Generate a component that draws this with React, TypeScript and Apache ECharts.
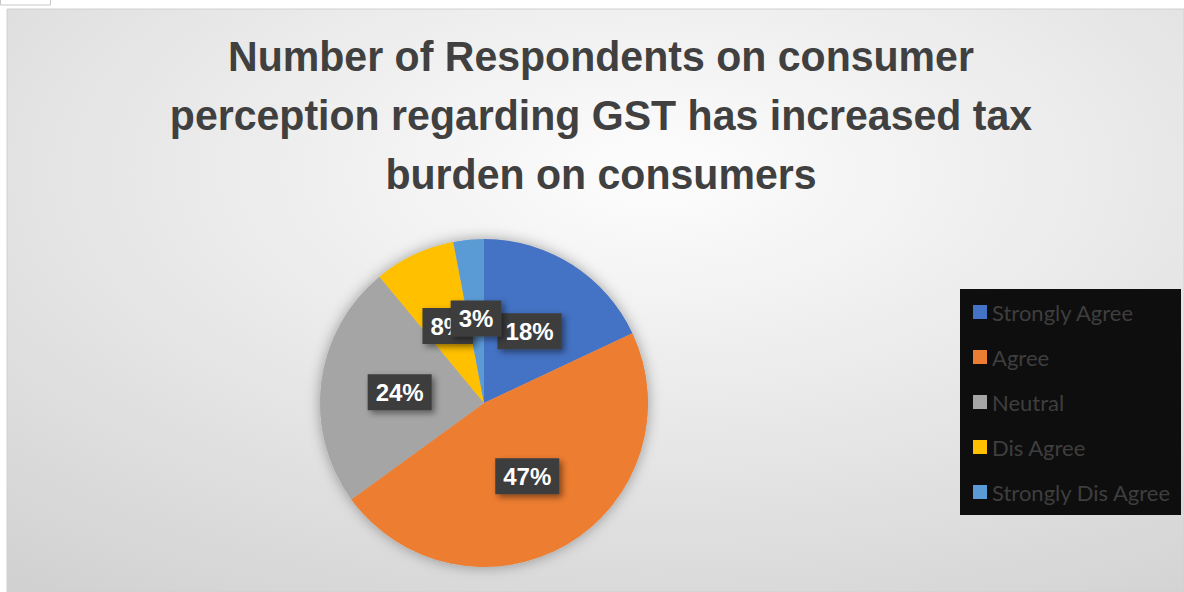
import React, { useEffect, useRef } from "react";
import * as echarts from "echarts";

const categories = ["Strongly Agree", "Agree", "Neutral", "Dis Agree", "Strongly Dis Agree"];
const values = [18, 47, 24, 8, 3];
const colors = ["#4472C4", "#ED7D31", "#A5A5A5", "#FFC000", "#5B9BD5"];
const titleText = "Number of Respondents on consumer\nperception regarding GST has increased tax\nburden on consumers";

const SANS = "'Liberation Sans', Arial, sans-serif";

export default function App() {
  const ref = useRef<HTMLDivElement>(null);
  useEffect(() => {
    if (!ref.current) return;
    const chart = echarts.init(ref.current, null, { renderer: "svg" });
    chart.setOption({
      animation: false,
      backgroundColor: "#ffffff",
      graphic: [
        {
          type: "rect",
          z: -10,
          silent: true,
          shape: { x: 7, y: 9, width: 1177, height: 583 },
          style: {
            fill: new echarts.graphic.RadialGradient(0.55, 0.28, 1.25, [
              { offset: 0, color: "#fdfdfd" },
              { offset: 0.35, color: "#e8e8e8" },
              { offset: 1, color: "#bfbfbf" },
            ]),
            stroke: "#d0d0d0",
            lineWidth: 1,
          },
        },
        {
          type: "rect",
          z: -5,
          silent: true,
          shape: { x: 0.5, y: -1, width: 50, height: 6 },
          style: { fill: "#ffffff", stroke: "#c8c8c8", lineWidth: 1 },
        },
        {
          type: "rect",
          z: -1,
          silent: true,
          shape: { x: 960, y: 289, width: 221, height: 226 },
          style: { fill: "#0e0e0e" },
        },
        {
          type: "text",
          z: 10,
          silent: true,
          x: 601,
          y: 27,
          scaleX: 0.955,
          style: {
            text: titleText,
            textAlign: "center",
            textVerticalAlign: "top",
            fontFamily: SANS,
            fontWeight: "bold",
            fontSize: 43,
            lineHeight: 59,
            fill: "#404040",
          },
        },
      ],
      legend: {
        orient: "vertical",
        left: 973,
        top: 301,
        padding: 0,
        itemWidth: 14,
        itemHeight: 14,
        itemGap: 23,
        icon: "rect",
        data: categories,
        textStyle: {
          fontFamily: "Lato, 'Open Sans', sans-serif",
          fontSize: 22,
          color: "#3e3e3e",
        },
      },
      series: [
        {
          type: "pie",
          silent: true,
          center: [484, 403],
          radius: 164,
          z: 1,
          label: { show: false },
          labelLine: { show: false },
          itemStyle: {
            color: "#bbbbbb",
            shadowBlur: 14,
            shadowColor: "rgba(0,0,0,0.35)",
          },
          data: [{ value: 1, name: "__shadow" }],
          tooltip: { show: false },
        },
        {
          type: "pie",
          center: [484, 403],
          radius: 164,
          startAngle: 90,
          clockwise: true,
          z: 2,
          percentPrecision: 0,
          avoidLabelOverlap: false,
          minShowLabelAngle: 0,
          labelLayout: { hideOverlap: false },
          data: categories.map((c, i) => ({
            name: c,
            value: values[i],
            itemStyle: { color: colors[i] },
          })),
          itemStyle: { borderWidth: 0 },
          label: {
            show: true,
            position: "inside",
            formatter: "{d}%",
            fontFamily: SANS,
            fontWeight: "bold",
            fontSize: 24,
            lineHeight: 25,
            color: "#ffffff",
            backgroundColor: "#3c3c3c",
            padding: [6, 8, 5, 8],
            shadowBlur: 6,
            shadowOffsetX: 3,
            shadowOffsetY: 3,
            shadowColor: "rgba(0,0,0,0.45)",
          },
          labelLine: { show: false },
        },
      ],
    });
    return () => chart.dispose();
  }, []);
  return (
    <div
      ref={ref}
      style={{ position: "fixed", left: 0, top: 0, width: 1184, height: 592 }}
    />
  );
}
